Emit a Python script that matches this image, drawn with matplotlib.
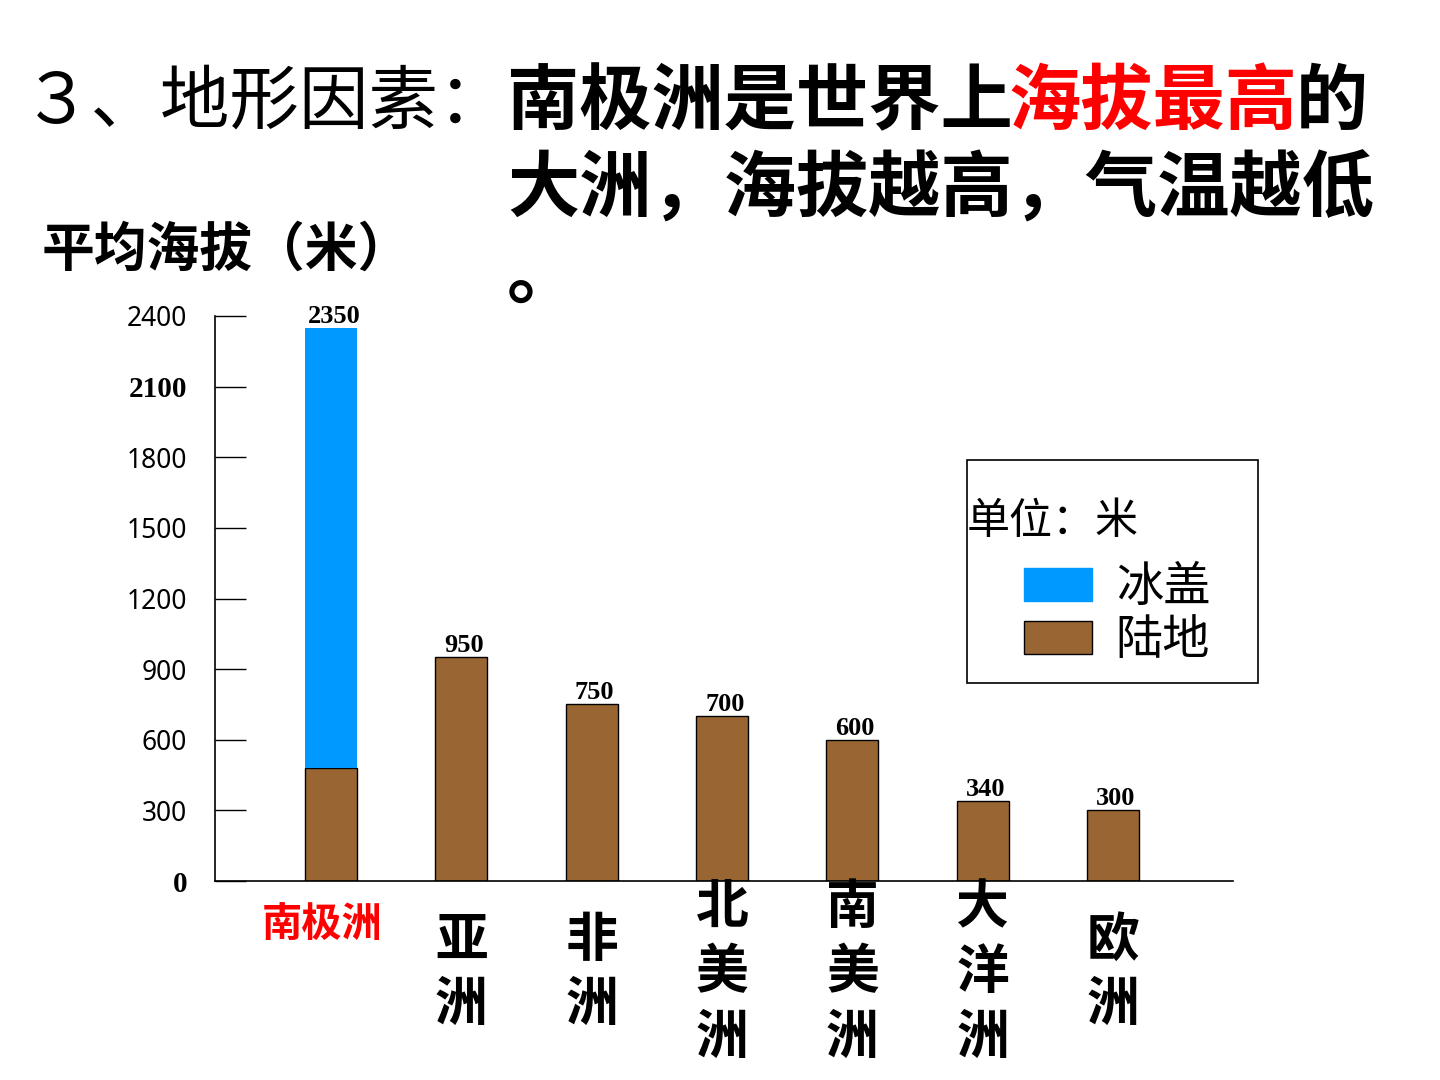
import numpy as np
import matplotlib
matplotlib.use("Agg")
import matplotlib.pyplot as plt
from matplotlib.patches import Patch, Rectangle

plt.rcParams['font.family'] = ['Noto Sans CJK SC', 'DejaVu Sans']

# data
continents = ["南极洲", "亚\n洲", "非\n洲", "北\n美\n洲", "南\n美\n洲", "大\n洋\n洲", "欧\n洲"]
total_height = [2350, 950, 750, 700, 600, 340, 300]
land_part = [480, 950, 750, 700, 600, 340, 300]
ice_part = [t - l for t, l in zip(total_height, land_part)]
value_labels = ["2350", "950", "750", "700", "600", "340", "300"]
yticks = [0, 300, 600, 900, 1200, 1500, 1800, 2100, 2400]

ICE = "#0099FF"
LAND = "#996633"

fig = plt.figure(figsize=(14.4, 10.8), dpi=100)
W, H = 1440.0, 1080.0
ax = fig.add_axes([215 / W, (H - 881) / H, (1233 - 215) / W, 565 / H])

x = np.arange(len(continents))
ax.bar(x, land_part, width=0.4, color=LAND, edgecolor="black", linewidth=1)
ax.bar(x, ice_part, width=0.4, bottom=land_part, color=ICE, linewidth=0)

for xi, h, lab in zip(x, total_height, value_labels):
    ax.annotate(lab, (xi, h), xytext=(2, 0), textcoords="offset points",
                ha="center", va="bottom", fontsize=19, fontweight="bold",
                family="Liberation Serif")

ax.set_xlim(-0.89, 6.92)
ax.set_ylim(0, 2400)
ax.spines["top"].set_visible(False)
ax.spines["right"].set_visible(False)
ax.spines["left"].set_linewidth(1.2)
ax.spines["bottom"].set_linewidth(1.2)

ax.set_yticks(yticks)
ax.set_yticklabels([str(v) for v in yticks])
ax.tick_params(axis="y", direction="in", length=22, width=1, pad=20)
for lab in ax.get_yticklabels():
    if lab.get_text() in ("0", "2100"):
        lab.set_family("Liberation Serif")
        lab.set_fontweight("bold")
        lab.set_fontsize(21)
    else:
        lab.set_family("Noto Sans")
        lab.set_fontsize(19)

ax.set_xticks([])
xform = ax.get_xaxis_transform()
for i, name in enumerate(continents):
    if i == 0:
        ax.text(x[i] - 0.07, -0.078, name, transform=xform, ha="center", va="center",
                color="#FF0000", fontsize=29, fontweight="bold")
    else:
        ax.text(x[i], -0.162, name, transform=xform, ha="center", va="center",
                fontsize=38, fontweight="bold", linespacing=1.28)

# legend box
fig.add_artist(Rectangle((967 / W, (H - 683) / H), 291 / W, 223 / H,
                         transform=fig.transFigure, fill=False, edgecolor="black", lw=1.2))
fig.text(967 / W, 1 - 522 / H, "单位：米", fontsize=31, ha="left", va="center")
handles = [Patch(facecolor=ICE, edgecolor=ICE, label="冰盖"),
           Patch(facecolor=LAND, edgecolor="black", label="陆地")]
fig.legend(handles=handles, loc="upper left", bbox_to_anchor=(1000 / W, 1 - 540 / H),
           frameon=False, fontsize=34, handlelength=1.45, handleheight=0.7,
           handletextpad=0.5, labelspacing=0.1, borderpad=0)

# headings
fig.text(42 / W, 1 - 250 / H, "平均海拔（米）", fontsize=38, fontweight="bold", va="center")
fig.text(22 / W, 1 - 103 / H, "３、地形因素：", fontsize=50, va="center")
fig.text(507 / W, 1 - 103 / H, "南极洲是世界上", fontsize=52, fontweight="bold", va="center")
fig.text(1009 / W, 1 - 103 / H, "海拔最高", fontsize=52, fontweight="bold", color="#FF0000", va="center")
fig.text(1296 / W, 1 - 103 / H, "的", fontsize=52, fontweight="bold", va="center")
fig.text(507 / W, 1 - 190 / H, "大洲，海拔越高，气温越低", fontsize=52, fontweight="bold", va="center")
fig.text(507 / W, 1 - 277 / H, "。", fontsize=52, fontweight="bold", va="center")

fig.savefig("out.png", dpi=100, facecolor="white")
